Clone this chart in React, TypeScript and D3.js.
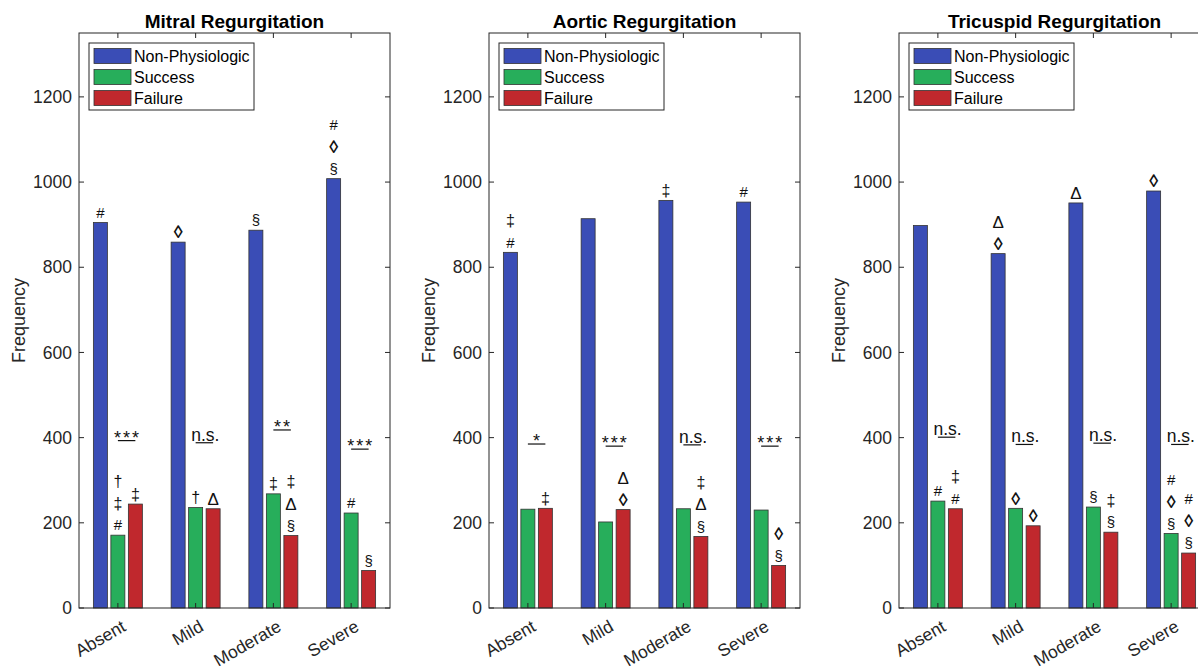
import { useEffect, useRef } from "react";
import * as d3 from "d3";

const categories = ["Absent", "Mild", "Moderate", "Severe"];
const seriesNames = ["Non-Physiologic", "Success", "Failure"];
const seriesColors = ["#3a4db6", "#27ae5b", "#c0282d"];
const panelTitles = ["Mitral Regurgitation", "Aortic Regurgitation", "Tricuspid Regurgitation"];
const yTicks = [0, 200, 400, 600, 800, 1000, 1200];

const mitralNonPhys = [905, 859, 887, 1008];
const mitralSuccess = [171, 236, 268, 223];
const mitralFailure = [244, 233, 170, 88];
const aorticNonPhys = [835, 914, 957, 953];
const aorticSuccess = [232, 202, 233, 230];
const aorticFailure = [234, 231, 168, 100];
const tricuspidNonPhys = [898, 832, 951, 979];
const tricuspidSuccess = [251, 234, 237, 175];
const tricuspidFailure = [233, 193, 178, 129];

// success vs failure comparison label + height of its bracket line
const mitralSig = ["***", "n.s.", "**", "***"];
const mitralSigY = [393, 388, 418, 373];
const aorticSig = ["*", "***", "n.s.", "***"];
const aorticSigY = [385, 380, 383, 380];
const tricuspidSig = ["n.s.", "n.s.", "n.s.", "n.s."];
const tricuspidSigY = [401, 384, 387, 384];

// symbols above each bar, bottom to top: [category][series]
const mitralMarks = [
  [["#"], ["#", "‡", "†"], ["‡"]],
  [["◊"], ["†"], ["Δ"]],
  [["§"], ["‡"], ["§", "Δ", "‡"]],
  [["§", "◊", "#"], ["#"], ["§"]],
];
const aorticMarks = [
  [["#", "‡"], [], ["‡"]],
  [[], [], ["◊", "Δ"]],
  [["‡"], [], ["§", "Δ", "‡"]],
  [["#"], [], ["§", "◊"]],
];
const tricuspidMarks = [
  [[], ["#"], ["#", "‡"]],
  [["◊", "Δ"], ["◊"], ["◊"]],
  [["Δ"], ["§"], ["§", "‡"]],
  [["◊"], ["§", "◊", "#"], ["§", "◊", "#"]],
];

const panels = [
  { title: panelTitles[0], series: [mitralNonPhys, mitralSuccess, mitralFailure], sig: mitralSig, sigY: mitralSigY, marks: mitralMarks },
  { title: panelTitles[1], series: [aorticNonPhys, aorticSuccess, aorticFailure], sig: aorticSig, sigY: aorticSigY, marks: aorticMarks },
  { title: panelTitles[2], series: [tricuspidNonPhys, tricuspidSuccess, tricuspidFailure], sig: tricuspidSig, sigY: tricuspidSigY, marks: tricuspidMarks },
];

const W = 1198;
const H = 666;
const FONT = "'Liberation Sans', Arial, Helvetica, sans-serif";
const INK = "#262626";
const symbolSize: Record<string, number> = { "#": 15, "§": 15, "‡": 16, "†": 16, "Δ": 17, "◊": 18 };

export default function App() {
  const svgRef = useRef<SVGSVGElement>(null);

  useEffect(() => {
    document.body.style.margin = "0";
    if (!svgRef.current) return;
    const svg = d3.select(svgRef.current);
    svg.selectAll("*").remove();

    svg.append("rect").attr("width", W).attr("height", H).attr("fill", "white");

    const axW = 311;
    const top = 33;
    const bottom = 608;
    const offsets = [-0.225, 0, 0.225];
    const barW = 0.18;

    panels.forEach((p, pi) => {
      const left = 79 + pi * 410;
      const g = svg.append("g").attr("font-family", FONT);

      const x = d3.scaleLinear().domain([0.5, 4.5]).range([left, left + axW]);
      const y = d3.scaleLinear().domain([0, 1350]).range([bottom, top]);

      // bars
      p.series.forEach((vals, si) => {
        g.selectAll(`.bar${si}`)
          .data(vals)
          .enter()
          .append("rect")
          .attr("x", (_, i) => x(i + 1 + offsets[si] - barW / 2))
          .attr("width", x(barW) - x(0))
          .attr("y", (d) => y(d))
          .attr("height", (d) => y(0) - y(d))
          .attr("fill", seriesColors[si])
          .attr("stroke", "#333")
          .attr("stroke-width", 0.8);
      });

      // ticks (inward)
      yTicks.forEach((t) => {
        g.append("line").attr("x1", left).attr("x2", left + 5).attr("y1", y(t)).attr("y2", y(t)).attr("stroke", INK);
        g.append("line").attr("x1", left + axW - 5).attr("x2", left + axW).attr("y1", y(t)).attr("y2", y(t)).attr("stroke", INK);
        g.append("text")
          .attr("x", left - 7)
          .attr("y", y(t))
          .attr("dy", "0.35em")
          .attr("text-anchor", "end")
          .attr("font-size", 17.5)
          .attr("fill", INK)
          .text(t);
      });
      categories.forEach((c, i) => {
        const cx = x(i + 1);
        g.append("line").attr("x1", cx).attr("x2", cx).attr("y1", bottom).attr("y2", bottom - 5).attr("stroke", INK);
        g.append("line").attr("x1", cx).attr("x2", cx).attr("y1", top).attr("y2", top + 5).attr("stroke", INK);
        g.append("text")
          .attr("transform", `translate(${cx + 9},${bottom + 22}) rotate(-30)`)
          .attr("text-anchor", "end")
          .attr("font-size", 17.5)
          .attr("fill", INK)
          .text(c);
      });

      // axes box
      g.append("rect")
        .attr("x", left)
        .attr("y", top)
        .attr("width", axW)
        .attr("height", bottom - top)
        .attr("fill", "none")
        .attr("stroke", INK)
        .attr("stroke-width", 1);

      // significance brackets
      p.sig.forEach((s, i) => {
        const x1 = x(i + 1 + offsets[1]);
        const x2 = x(i + 1 + offsets[2]);
        const ly = y(p.sigY[i]);
        g.append("line").attr("x1", x1).attr("x2", x2).attr("y1", ly).attr("y2", ly).attr("stroke", "#111").attr("stroke-width", 1.2);
        const star = s.includes("*");
        g.append("text")
          .attr("x", (x1 + x2) / 2 + 1)
          .attr("y", star ? ly + 3 : ly - 2)
          .attr("text-anchor", "middle")
          .attr("font-size", star ? 18 : 17.5)
          .attr("letter-spacing", star ? 2 : 0)
          .attr("fill", "#111")
          .text(s);
      });

      // symbols above bars
      p.marks.forEach((row, ci) => {
        row.forEach((stack, si) => {
          const v = p.series[si][ci];
          const bx = x(ci + 1 + offsets[si]);
          stack.forEach((sym, k) => {
            g.append("text")
              .attr("x", bx)
              .attr("y", y(v) - 10 - k * 22)
              .attr("dy", "0.35em")
              .attr("text-anchor", "middle")
              .attr("font-size", symbolSize[sym] || 15)
              .attr("font-weight", sym === "◊" ? "bold" : "normal")
              .attr("fill", "#111")
              .text(sym);
          });
        });
      });

      // title
      g.append("text")
        .attr("x", left + axW / 2)
        .attr("y", 28)
        .attr("text-anchor", "middle")
        .attr("font-size", 19)
        .attr("font-weight", "bold")
        .attr("fill", "#000")
        .text(p.title);

      // y label
      g.append("text")
        .attr("transform", `translate(${left - 54},${(top + bottom) / 2}) rotate(-90)`)
        .attr("text-anchor", "middle")
        .attr("font-size", 18)
        .attr("fill", INK)
        .text("Frequency");

      // legend
      const lg = g.append("g").attr("transform", `translate(${left + 10},${top + 10})`);
      lg.append("rect").attr("width", 165).attr("height", 67).attr("fill", "white").attr("stroke", INK).attr("stroke-width", 1);
      seriesNames.forEach((n, si) => {
        const cy = 13 + si * 21;
        lg.append("rect")
          .attr("x", 5)
          .attr("y", cy - 7.5)
          .attr("width", 37)
          .attr("height", 15)
          .attr("fill", seriesColors[si])
          .attr("stroke", "#333")
          .attr("stroke-width", 0.8);
        lg.append("text")
          .attr("x", 45)
          .attr("y", cy)
          .attr("dy", "0.35em")
          .attr("font-size", 16)
          .attr("fill", "#000")
          .text(n);
      });
    });
  }, []);

  return <svg ref={svgRef} width={W} height={H} style={{ display: "block" }} />;
}
